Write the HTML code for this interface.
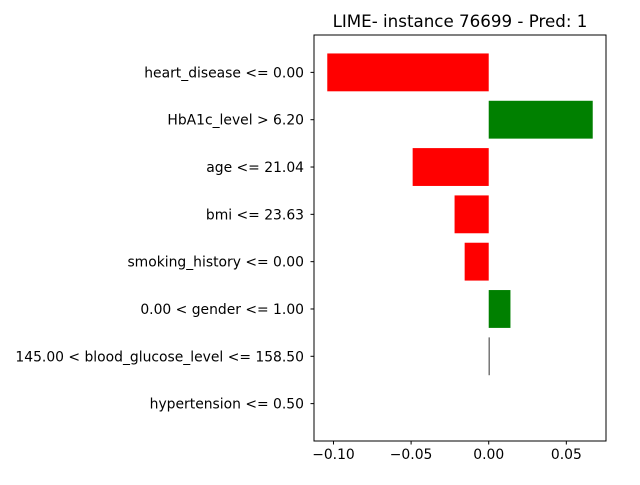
<!DOCTYPE html>
<html><head><meta charset="utf-8"><style>
body{margin:0;background:#fff;font-family:"Liberation Sans","DejaVu Sans",sans-serif;}
svg text{font-family:"DejaVu Sans","Liberation Sans",sans-serif;}
</style></head><body>
<svg id="chart" width="640" height="480" xmlns="http://www.w3.org/2000/svg">
<rect width="640" height="480" fill="#fff"/>
<text x="460" y="27" font-size="16.7" text-anchor="middle">LIME- instance 76699 - Pred: 1</text>
<g id="bars"></g>
<g id="yticks"></g>
<g id="xticks"></g>
<rect x="314" y="35" width="292" height="406" fill="none" stroke="#000" stroke-width="1"/>
</svg>
<script>
const labels = ["hypertension <= 0.50","145.00 < blood_glucose_level <= 158.50","0.00 < gender <= 1.00","smoking_history <= 0.00","bmi <= 23.63","age <= 21.04","HbA1c_level > 6.20","heart_disease <= 0.00"];
const values = [0, 0.0003, 0.014, -0.0155, -0.022, -0.049, 0.067, -0.104];
const xTickVals = [-0.10, -0.05, 0.00, 0.05];
const xTickLabels = ["−0.10","−0.05","0.00","0.05"];

const L=314,R=606,T=35,B=441,NS="http://www.w3.org/2000/svg";
const vmin=Math.min(0,...values), vmax=Math.max(0,...values), m=(vmax-vmin)*0.05;
const x0=vmin-m, x1=vmax+m;
const X=v=>L+(v-x0)/(x1-x0)*(R-L);
const y0=-0.4-0.39, y1=labels.length-1+0.4+0.39;
const Y=i=>T+(y1-i)/(y1-y0)*(B-T);
const bh=0.8/(y1-y0)*(B-T);
function mk(t,a,p){const e=document.createElementNS(NS,t);for(const k in a)e.setAttribute(k,a[k]);document.getElementById(p).appendChild(e);return e;}
values.forEach((v,i)=>{
  const r=mk('rect',{x:Math.min(X(v),X(0)),y:Y(i)-bh/2,width:Math.abs(X(v)-X(0)),height:bh,fill:v>0?'#008000':'#ff0000'},'bars');
  
  
  if(v!==0&&Math.abs(X(v)-X(0))<1){r.setAttribute('width',0.8);r.setAttribute('fill','#000');}
  const tk=mk('line',{x1:L-3.5,x2:L,y1:Y(i),y2:Y(i),stroke:'#000'},'yticks');
  
  
  const t=mk('text',{x:L-10,y:Y(i)+5,'font-size':'13.9','text-anchor':'end'},'yticks');
  t.textContent=labels[i];
  
  
});
xTickVals.forEach((v,i)=>{
  const tk=mk('line',{x1:X(v),x2:X(v),y1:B,y2:B+3.5,stroke:'#000'},'xticks');
  
  
  const t=mk('text',{x:X(v),y:B+18,'font-size':'13.9','text-anchor':'middle'},'xticks');
  t.textContent=xTickLabels[i];
  
  
});
</script>
</body></html>
